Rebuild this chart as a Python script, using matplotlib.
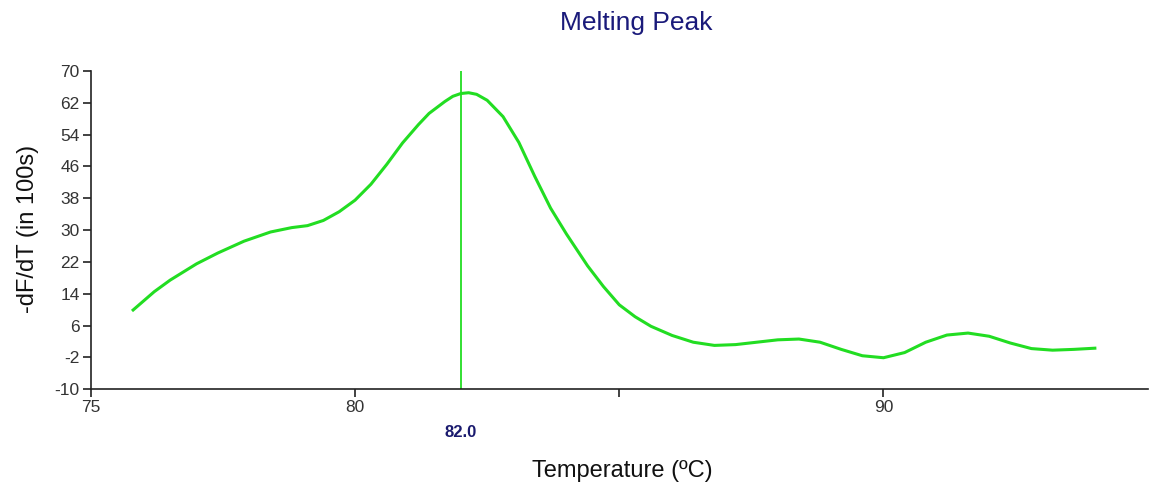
import matplotlib.pyplot as plt

# melt curve
temps = [75.8, 76.2, 76.5, 77.0, 77.4, 77.9, 78.4, 78.8, 79.1, 79.4, 79.7,
         80.0, 80.3, 80.6, 80.9, 81.2, 81.4, 81.7, 81.85, 82.0, 82.15, 82.3,
         82.5, 82.8, 83.1, 83.4, 83.7, 84.0, 84.4, 84.7, 85.0, 85.3, 85.6,
         86.0, 86.4, 86.8, 87.2, 87.6, 88.0, 88.4, 88.8, 89.2, 89.6, 90.0,
         90.4, 90.8, 91.2, 91.6, 92.0, 92.4, 92.8, 93.2, 93.6, 94.0]
dfdt = [9.9, 14.5, 17.4, 21.5, 24.2, 27.2, 29.5, 30.6, 31.1, 32.4, 34.6,
        37.5, 41.5, 46.5, 51.9, 56.5, 59.3, 62.3, 63.6, 64.3, 64.5, 64.1,
        62.6, 58.5, 52.0, 43.5, 35.5, 29.0, 21.0, 15.8, 11.2, 8.2, 5.8,
        3.5, 1.8, 1.0, 1.2, 1.8, 2.4, 2.6, 1.8, 0.0, -1.6, -2.1,
        -0.8, 1.8, 3.6, 4.1, 3.3, 1.6, 0.2, -0.2, 0.0, 0.3]
peak_temp = 82.0

x_ticks = [75, 80, 85, 90]
x_ticklabels = ['75', '80', '', '90']
y_ticks = [-10, -2, 6, 14, 22, 30, 38, 46, 54, 62, 70]

plt.rcParams['font.family'] = ['Liberation Sans', 'DejaVu Sans']
plt.rcParams['axes.unicode_minus'] = False

fig = plt.figure(figsize=(11.5, 4.92), dpi=100)
ax = fig.add_axes([0.079, 0.209, 0.919, 0.647])

green = '#22dd22'
ax.plot(temps, dfdt, color=green, linewidth=2.2, solid_joinstyle='round')
ax.axvline(peak_temp, color=green, linewidth=1.3)

ax.set_xlim(75, 95)
ax.set_ylim(-10, 70)
ax.set_xticks(x_ticks)
ax.set_xticklabels(x_ticklabels)
ax.set_yticks(y_ticks)

for side in ['top', 'right']:
    ax.spines[side].set_visible(False)
for side in ['left', 'bottom']:
    ax.spines[side].set_linewidth(1.2)
    ax.spines[side].set_color('#222222')

ax.tick_params(axis='both', direction='out', length=6, width=1.2,
               labelsize=12.5, labelcolor='#333333', color='#222222', pad=2)

ax.text(peak_temp, -0.135, '%.1f' % peak_temp, transform=ax.get_xaxis_transform(),
        ha='center', va='center', fontsize=12, fontweight='bold', color='#1a1a6e')

fig.text(0.553, 0.953, 'Melting Peak', ha='center', va='center',
         fontsize=19, color='#1a1a7a')
fig.text(0.541, 0.043, 'Temperature (ºC)', ha='center', va='center',
         fontsize=17, color='#111111')
fig.text(0.024, 0.535, '-dF/dT (in 100s)', ha='center', va='center',
         rotation=90, fontsize=17, color='#111111')

plt.savefig('out.png', dpi=100)
plt.close()
